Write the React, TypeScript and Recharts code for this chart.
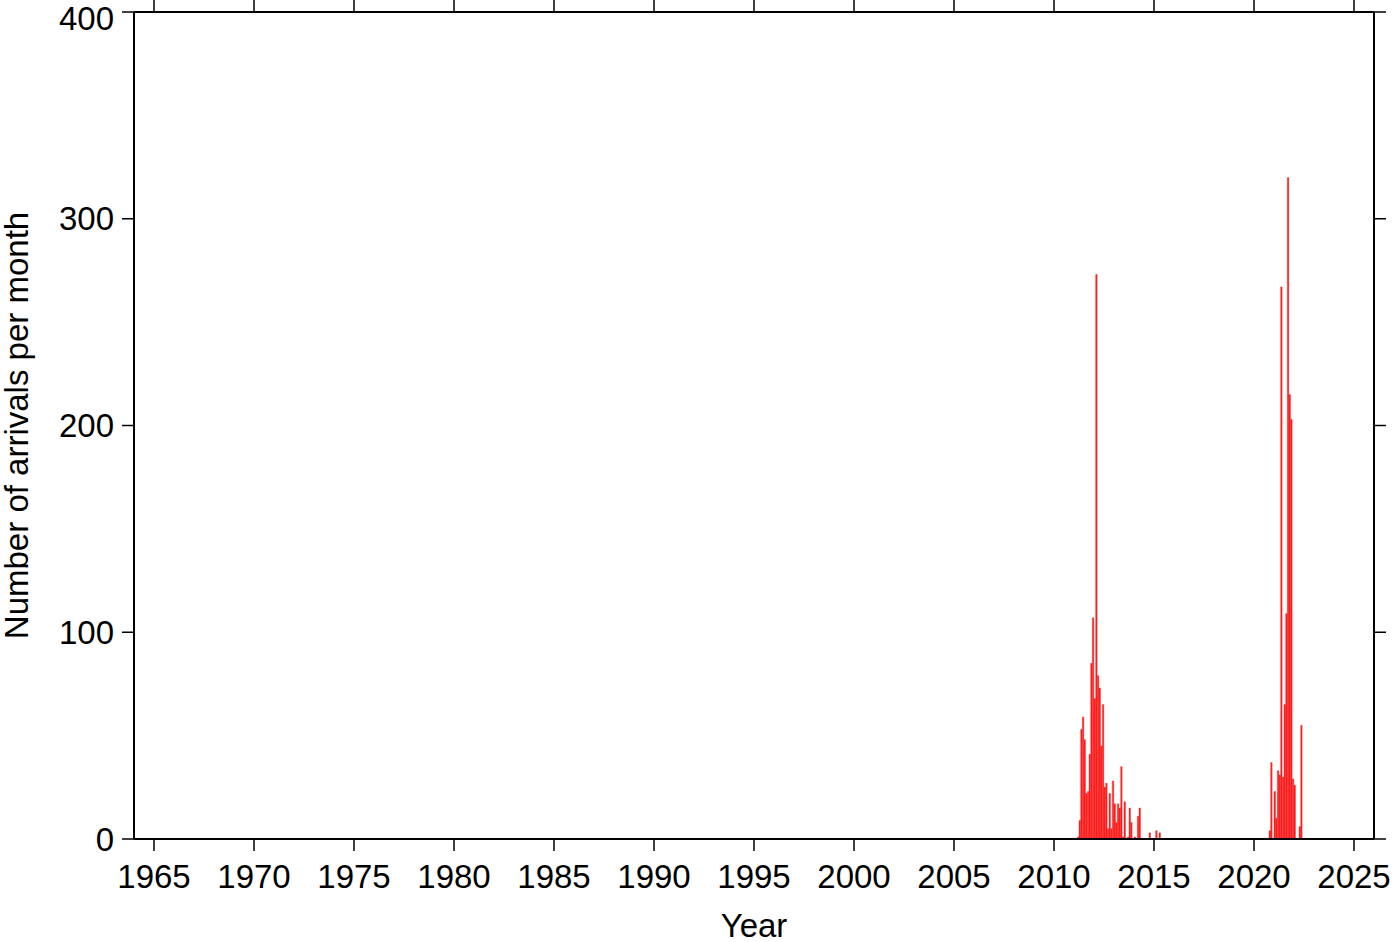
import React from 'react';
import { ComposedChart, Bar, Line, XAxis, YAxis } from 'recharts';

// year ticks along the bottom (and top, unlabelled)
const yearTicks = [1965, 1970, 1975, 1980, 1985, 1990, 1995, 2000, 2005, 2010, 2015, 2020, 2025];
const countTicks = [0, 100, 200, 300, 400];

// first swarm, monthly counts from March 2011
const swarm1Start = '2011-03';
const swarm1Counts = [
    1, 9, 53, 59, 48, 22, 23, 41, 85, 107,
    68, 273, 79, 73, 45, 65, 25, 27, 5, 22, 5, 28,
    17, 8, 17, 15, 35, 1, 18, 0, 1, 15, 8, 0,
    1, 0, 11, 15, 0, 0, 0, 0, 0, 3, 0, 0,
    0, 4, 0, 3,
];

// second swarm, monthly counts from October 2020
const swarm2Start = '2020-10';
const swarm2Counts = [
    4, 37, 0,
    23, 10, 33, 31, 267, 30, 65, 109, 320, 215, 203, 29,
    26, 0, 0, 6, 55,
];

const FONT = '"Liberation Sans", Arial, sans-serif';
const FS = 33;

// month i after start -> middle of that month as decimal year
const toRows = (start: string, counts: number[]) => {
    const [y, m] = start.split('-').map(Number);
    return counts.map((n, i) => {
        const idx = (m - 1) + i;
        return { t: y + Math.floor(idx / 12) + ((idx % 12) + 0.5) / 12, n };
    });
};

const rows = [...toRows(swarm1Start, swarm1Counts), ...toRows(swarm2Start, swarm2Counts)];

const axisLine = { stroke: '#000', strokeWidth: 2 };
const tickLine = { stroke: '#000', strokeWidth: 1.5 };
const tickText = { fill: '#000', fontSize: FS, fontFamily: FONT };
// frame axes: tick marks only, no labels
const NoLabel = () => <g />;

const YTitle = (props: any) => {
    const vb = props.viewBox || {};
    const cy = (vb.y ?? 12) + (vb.height ?? 827) / 2;
    return (
        <text
            x={16}
            y={cy}
            transform={`rotate(-90, 16, ${cy})`}
            textAnchor="middle"
            dominantBaseline="central"
            fill="#000"
            fontSize={FS}
            fontFamily={FONT}
        >
            Number of arrivals per month
        </text>
    );
};

const App: React.FC = () => {
    return (
        <div style={{ position: 'absolute', left: 0, top: 0, width: 1400, height: 942, background: '#fff' }}>
            <ComposedChart
                width={1400}
                height={942}
                data={rows}
                margin={{ top: 0, right: 0, bottom: 43, left: 34 }}
            >
                <XAxis
                    xAxisId="bottom"
                    dataKey="t"
                    type="number"
                    domain={[1964, 2026]}
                    ticks={yearTicks}
                    allowDataOverflow
                    height={60}
                    tickSize={12}
                    tickMargin={14}
                    axisLine={axisLine}
                    tickLine={tickLine}
                    tick={tickText}
                    label={{ value: 'Year', position: 'bottom', offset: 15, fill: '#000', fontSize: FS, fontFamily: FONT }}
                />
                <XAxis
                    xAxisId="top"
                    orientation="top"
                    dataKey="t"
                    type="number"
                    domain={[1964, 2026]}
                    ticks={yearTicks}
                    allowDataOverflow
                    height={12}
                    tickSize={12}
                    axisLine={axisLine}
                    tickLine={tickLine}
                    tick={<NoLabel />}
                />
                <YAxis
                    yAxisId="left"
                    type="number"
                    domain={[0, 400]}
                    ticks={countTicks}
                    width={100}
                    tickSize={12}
                    tickMargin={8}
                    axisLine={axisLine}
                    tickLine={tickLine}
                    tick={tickText}
                    label={<YTitle />}
                />
                <YAxis
                    yAxisId="right"
                    orientation="right"
                    type="number"
                    domain={[0, 400]}
                    ticks={countTicks}
                    width={26}
                    tickSize={12}
                    axisLine={axisLine}
                    tickLine={tickLine}
                    tick={<NoLabel />}
                />
                <Bar
                    xAxisId="bottom"
                    yAxisId="left"
                    dataKey="n"
                    barSize={1.5}
                    fill="#ff2323"
                    stroke="#f00000"
                    strokeWidth={0.3}
                    isAnimationActive={false}
                />
                {/* invisible series so the top/right frame axes get their ticks */}
                <Line
                    xAxisId="top"
                    yAxisId="right"
                    dataKey="n"
                    stroke="none"
                    dot={false}
                    activeDot={false}
                    legendType="none"
                    isAnimationActive={false}
                />
            </ComposedChart>
        </div>
    );
};

export default App;
